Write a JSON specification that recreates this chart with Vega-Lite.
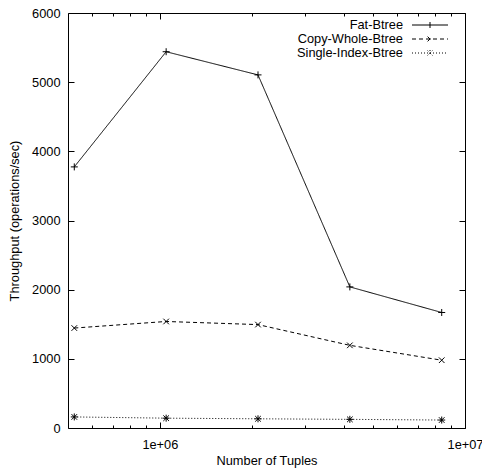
{
  "$schema": "https://vega.github.io/schema/vega-lite/v6.json",
  "width": 397,
  "height": 415,
  "autosize": {"type": "none"},
  "padding": {"left": 68, "top": 13, "right": 17, "bottom": 40},
  "background": "white",
  "config": {
    "view": {"stroke": "black", "strokeWidth": 1},
    "font": "Liberation Sans",
    "axis": {
      "labelFont": "Liberation Sans",
      "labelFontSize": 12.8,
      "labelColor": "black",
      "titleFont": "Liberation Sans",
      "titleFontSize": 12.8,
      "titleFontWeight": "normal",
      "titleColor": "black",
      "tickColor": "black",
      "tickWidth": 1,
      "domain": false,
      "grid": false,
      "labelFlush": false,
      "labelOverlap": false
    },
    "legend": {
      "title": null,
      "orient": "none",
      "legendX": 355.5,
      "legendY": 5.5,
      "labelAlign": "right",
      "labelOffset": -33.5,
      "labelFont": "Liberation Sans",
      "labelFontSize": 12.8,
      "labelColor": "black",
      "symbolSize": 144,
      "symbolStrokeColor": "black",
      "symbolStrokeWidth": 1,
      "symbolFillColor": "transparent",
      "symbolOpacity": 1,
      "rowPadding": 0,
      "padding": 0
    }
  },
  "data": {
    "values": [
      {"series": "Fat-Btree", "tuples": 524288, "throughput": 3775},
      {"series": "Fat-Btree", "tuples": 1048576, "throughput": 5440},
      {"series": "Fat-Btree", "tuples": 2097152, "throughput": 5105},
      {"series": "Fat-Btree", "tuples": 4194304, "throughput": 2040},
      {"series": "Fat-Btree", "tuples": 8388608, "throughput": 1670},
      {"series": "Copy-Whole-Btree", "tuples": 524288, "throughput": 1445},
      {"series": "Copy-Whole-Btree", "tuples": 1048576, "throughput": 1540},
      {"series": "Copy-Whole-Btree", "tuples": 2097152, "throughput": 1495},
      {"series": "Copy-Whole-Btree", "tuples": 4194304, "throughput": 1195},
      {"series": "Copy-Whole-Btree", "tuples": 8388608, "throughput": 980},
      {"series": "Single-Index-Btree", "tuples": 524288, "throughput": 160},
      {"series": "Single-Index-Btree", "tuples": 1048576, "throughput": 142},
      {"series": "Single-Index-Btree", "tuples": 2097152, "throughput": 133},
      {"series": "Single-Index-Btree", "tuples": 4194304, "throughput": 125},
      {"series": "Single-Index-Btree", "tuples": 8388608, "throughput": 115}
    ]
  },
  "resolve": {
    "axis": {"x": "independent", "y": "independent"},
    "scale": {"shape": "independent", "strokeDash": "independent"}
  },
  "layer": [
    {
      "mark": {"type": "line", "stroke": "black", "strokeWidth": 1},
      "encoding": {
        "x": {
          "field": "tuples", "type": "quantitative",
          "scale": {"type": "log", "domain": [500000, 10000000], "nice": false},
          "axis": {
            "orient": "bottom", "values": [1000000, 10000000],
            "labelExpr": "datum.value < 5000000 ? '1e+06' : '1e+07'",
            "ticks": false, "labelPadding": 10,
            "title": "Number of Tuples", "titlePadding": 4
          }
        },
        "y": {
          "field": "throughput", "type": "quantitative",
          "scale": {"domain": [0, 6000], "nice": false},
          "axis": {
            "orient": "left", "values": [0, 1000, 2000, 3000, 4000, 5000, 6000],
            "format": "d",
            "ticks": false, "labelPadding": 8,
            "title": "Throughput (operations/sec)", "titlePadding": 10
          }
        },
        "strokeDash": {
          "field": "series", "type": "nominal",
          "scale": {"domain": ["Fat-Btree", "Copy-Whole-Btree", "Single-Index-Btree"], "range": [[1, 0], [4, 3], [1, 2]]},
          "legend": null
        }
      }
    },
    {
      "mark": {"type": "point", "filled": false, "stroke": "black", "strokeWidth": 1, "size": 49, "opacity": 1},
      "encoding": {
        "x": {
          "field": "tuples", "type": "quantitative",
          "axis": {"orient": "bottom", "values": [1000000, 10000000], "labels": false, "tickSize": -6, "title": null}
        },
        "y": {
          "field": "throughput", "type": "quantitative",
          "axis": {"orient": "left", "values": [0, 1000, 2000, 3000, 4000, 5000, 6000], "labels": false, "tickSize": -6, "title": null}
        },
        "shape": {
          "field": "series", "type": "nominal",
          "scale": {
            "domain": ["Fat-Btree", "Copy-Whole-Btree", "Single-Index-Btree"],
            "range": [
              "M0,-1V1M-1,0H1",
              "M-0.8,-0.8L0.8,0.8M-0.8,0.8L0.8,-0.8",
              "M0,-1V1M-1,0H1M-0.8,-0.8L0.8,0.8M-0.8,0.8L0.8,-0.8"
            ]
          },
          "legend": null
        }
      }
    },
    {
      "mark": {"type": "point", "opacity": 0},
      "encoding": {
        "x": {
          "field": "tuples", "type": "quantitative",
          "axis": {"orient": "bottom", "values": [600000, 700000, 800000, 900000, 2000000, 3000000, 4000000, 5000000, 6000000, 7000000, 8000000, 9000000], "labels": false, "tickSize": -3, "title": null}
        },
        "y": {"field": "throughput", "type": "quantitative", "axis": null}
      }
    },
    {
      "mark": {"type": "point", "opacity": 0},
      "encoding": {
        "x": {
          "field": "tuples", "type": "quantitative",
          "axis": {"orient": "top", "values": [1000000, 10000000], "labels": false, "tickSize": -6, "title": null}
        },
        "y": {
          "field": "throughput", "type": "quantitative",
          "axis": {"orient": "right", "values": [0, 1000, 2000, 3000, 4000, 5000, 6000], "labels": false, "tickSize": -6, "title": null}
        }
      }
    },
    {
      "mark": {"type": "point", "opacity": 0},
      "encoding": {
        "x": {
          "field": "tuples", "type": "quantitative",
          "axis": {"orient": "top", "values": [600000, 700000, 800000, 900000, 2000000, 3000000, 4000000, 5000000, 6000000, 7000000, 8000000, 9000000], "labels": false, "tickSize": -3, "title": null}
        },
        "y": {"field": "throughput", "type": "quantitative", "axis": null}
      }
    },
    {
      "transform": [{"filter": "false"}],
      "mark": {"type": "point", "filled": false, "stroke": "black", "strokeWidth": 1, "opacity": 1},
      "encoding": {
        "x": {"field": "tuples", "type": "quantitative", "axis": null},
        "y": {"field": "throughput", "type": "quantitative", "axis": null},
        "shape": {
          "field": "series", "type": "nominal",
          "scale": {
            "domain": ["Fat-Btree", "Copy-Whole-Btree", "Single-Index-Btree"],
            "range": [
              "M-3,0H3M0,-0.5V0.5",
              "M-3,0H3M-0.4,-0.4L0.4,0.4M-0.4,0.4L0.4,-0.4",
              "M-3,0H3M0,-0.5V0.5M-0.4,-0.4L0.4,0.4M-0.4,0.4L0.4,-0.4"
            ]
          }
        },
        "strokeDash": {
          "field": "series", "type": "nominal",
          "scale": {"domain": ["Fat-Btree", "Copy-Whole-Btree", "Single-Index-Btree"], "range": [[1, 0], [4, 3], [1, 2]]}
        }
      }
    }
  ]
}
